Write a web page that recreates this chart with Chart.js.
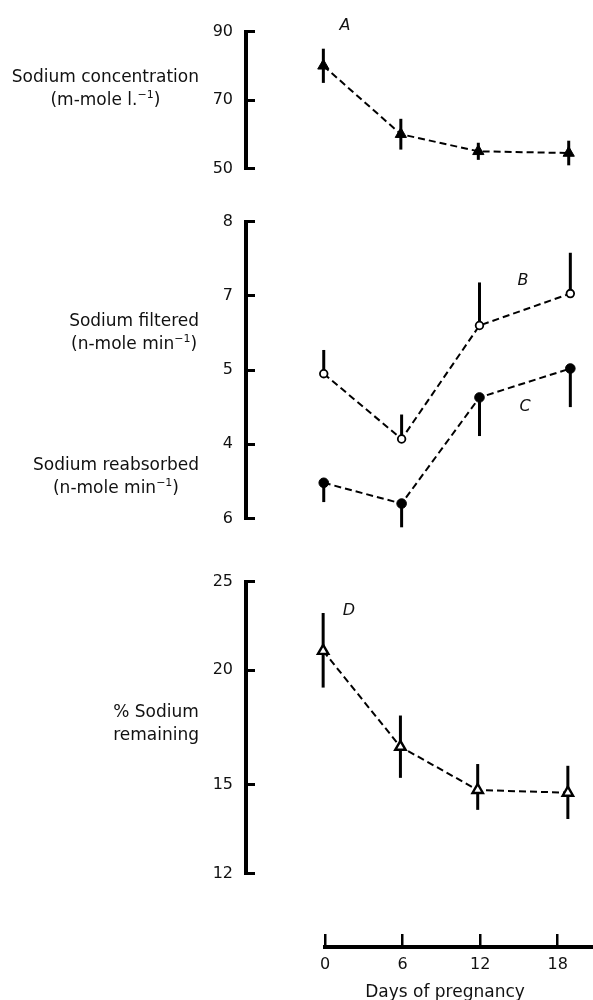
<!DOCTYPE html>
<html>
<head>
<meta charset="utf-8">
<title>Sodium handling during pregnancy</title>
<script src="https://cdn.jsdelivr.net/npm/chart.js@4.4.0/dist/chart.umd.min.js"></script>
<style>
  html, body { margin: 0; padding: 0; background: #fff; }
  #figure { position: relative; width: 593px; height: 1000px; overflow: hidden;
            font-family: 'DejaVu Sans', sans-serif; color: #111; }
  #figure canvas { position: absolute; left: 0; }
  .ylab { position: absolute; right: 394px; font-size: 17px; line-height: 23px;
          text-align: center; white-space: nowrap; z-index: 2; }
  .ylab sup { font-size: 11px; vertical-align: 7px; line-height: 0; }
  .tag { position: absolute; font-size: 16px; line-height: 16px; font-style: italic;
         transform: translate(-50%, -50%); z-index: 2; }
  #xtitle { position: absolute; left: 445px; top: 981px; font-size: 17px; line-height: 20px;
            transform: translateX(-50%); white-space: nowrap; z-index: 2; }
</style>
</head>
<body>
<div id="figure">
  <canvas id="panelA" width="593" height="200" style="top:0px"></canvas>
  <canvas id="panelBC" width="593" height="360" style="top:190px"></canvas>
  <canvas id="panelD" width="593" height="355" style="top:550px"></canvas>
  <canvas id="axisX" width="593" height="100" style="top:900px"></canvas>

  <div class="ylab" style="top:65px">Sodium concentration<br>(m-mole l.<sup>−1</sup>)</div>
  <div class="ylab" style="top:309px">Sodium filtered<br>(n-mole min<sup>−1</sup>)</div>
  <div class="ylab" style="top:453px">Sodium reabsorbed<br>(n-mole min<sup>−1</sup>)</div>
  <div class="ylab" style="top:700px">% Sodium<br>remaining</div>

  <div class="tag" style="left:345px; top:25px">A</div>
  <div class="tag" style="left:523px; top:280px">B</div>
  <div class="tag" style="left:525px; top:406px">C</div>
  <div class="tag" style="left:349px; top:610px">D</div>

  <div id="xtitle">Days of pregnancy</div>
</div>

<script>
// Days of pregnancy at which the measurements were made
const days = [0, 6, 12, 19];
const dayTicks = [0, 6, 12, 18];

// A - sodium concentration (m-mole/l), mean +/- s.e.
const concValues = [80, 60, 55, 54.5];
const concErr = [5, 4.5, 2.5, 3.6];
const concTicks = [50, 70, 90];

// B / C - filtered and reabsorbed sodium (axis units as drawn, labels below)
const filteredValues = [5.95, 5.07, 6.6, 7.03];
const filteredErrUp = [0.32, 0.33, 0.58, 0.55];
const reabsorbedValues = [4.48, 4.2, 5.63, 6.02];
const reabsorbedErrDown = [0.26, 0.32, 0.52, 0.52];
const midTicks = [4, 5, 6, 7, 8];
const midTickLabels = ['6', '4', '5', '7', '8'];

// D - % sodium remaining (log axis)
const remainingValues = [21.0, 16.5, 14.8, 14.7];
const remainingLow = [19.15, 15.26, 14.08, 13.76];
const remainingHigh = [23.1, 17.85, 15.8, 15.73];
const remainingTicks = [12, 15, 20, 25];

const FONT = { family: "'DejaVu Sans', sans-serif", size: 16 };

// draws vertical error bars from dataset.errLow / dataset.errHigh
const errorBars = {
    id: 'errorBars',
    beforeDatasetsDraw(chart) {
        const ctx = chart.ctx;
        const xs = chart.scales.x, ys = chart.scales.y;
        chart.data.datasets.forEach(ds => {
            if (!ds.errLow) return;
            ctx.save();
            ctx.strokeStyle = '#000';
            ctx.lineWidth = 3;
            ds.data.forEach((p, i) => {
                const x = xs.getPixelForValue(p.x);
                ctx.beginPath();
                ctx.moveTo(x, ys.getPixelForValue(ds.errLow[i]));
                ctx.lineTo(x, ys.getPixelForValue(ds.errHigh[i]));
                ctx.stroke();
            });
            ctx.restore();
        });
    }
};

function points(values) {
    return days.map((d, i) => ({ x: d, y: values[i] }));
}

function series(values, low, high, marker) {
    return Object.assign({
        data: points(values),
        errLow: low,
        errHigh: high,
        borderColor: '#000',
        borderWidth: 2,
        borderDash: [7, 4],
        tension: 0,
        fill: false,
        clip: false,
        pointHoverRadius: 0
    }, marker);
}

function yAxis(extra) {
    return Object.assign({
        position: 'left',
        afterFit(scale) { scale.width = 246; },
        border: { display: true, color: '#000', width: 4 },
        grid: { display: true, drawOnChartArea: false, drawTicks: true, tickLength: -9, color: '#000', lineWidth: 3 },
        ticks: { padding: 22, color: '#111', font: FONT }
    }, extra);
}

function panel(id, padTop, padBottom, datasets, y) {
    return new Chart(document.getElementById(id), {
        type: 'line',
        data: { datasets: datasets },
        options: {
            responsive: false,
            animation: false,
            events: [],
            layout: { padding: { left: 0, right: 0, top: padTop, bottom: padBottom } },
            plugins: { legend: { display: false }, tooltip: { enabled: false } },
            scales: {
                x: { type: 'linear', display: false, min: -5.99, max: 20.3 },
                y: y
            }
        },
        plugins: [errorBars]
    });
}

// Panel A
panel('panelA', 20, 28.3, [
    series(concValues,
        concValues.map((v, i) => v - concErr[i]),
        concValues.map((v, i) => v + concErr[i]),
        { pointStyle: 'triangle', pointRadius: 6.5, pointBackgroundColor: '#000', pointBorderColor: '#000', pointBorderWidth: 1 })
], yAxis({
    type: 'linear', min: 50, max: 90,
    afterBuildTicks(scale) { scale.ticks = concTicks.map(v => ({ value: v })); }
}));

// Panel B and C
panel('panelBC', 21.7, 29.3, [
    series(filteredValues,
        filteredValues,
        filteredValues.map((v, i) => v + filteredErrUp[i]),
        { pointStyle: 'circle', pointRadius: 3.8, pointBackgroundColor: '#fff', pointBorderColor: '#000', pointBorderWidth: 1.8 }),
    series(reabsorbedValues,
        reabsorbedValues.map((v, i) => v - reabsorbedErrDown[i]),
        reabsorbedValues,
        { pointStyle: 'circle', pointRadius: 4.8, pointBackgroundColor: '#000', pointBorderColor: '#000', pointBorderWidth: 1 })
], yAxis({
    type: 'linear', min: 4, max: 8,
    afterBuildTicks(scale) { scale.ticks = midTicks.map(v => ({ value: v })); },
    ticks: {
        padding: 22, color: '#111', font: FONT,
        callback: v => midTickLabels[midTicks.indexOf(v)]
    }
}));

// Panel D
panel('panelD', 26.7, 22.3, [
    series(remainingValues, remainingLow, remainingHigh,
        { pointStyle: 'triangle', pointRadius: 6, pointBackgroundColor: '#fff', pointBorderColor: '#000', pointBorderWidth: 2.4 })
], yAxis({
    type: 'logarithmic', min: 12, max: 25,
    afterBuildTicks(scale) { scale.ticks = remainingTicks.map(v => ({ value: v })); },
    ticks: { padding: 22, color: '#111', font: FONT, callback: v => String(v) }
}));

// Shared time axis at the bottom
new Chart(document.getElementById('axisX'), {
    type: 'line',
    data: { datasets: [] },
    options: {
        responsive: false,
        animation: false,
        events: [],
        layout: { padding: { left: 325, right: 0, top: 34, bottom: 0 } },
        plugins: { legend: { display: false }, tooltip: { enabled: false } },
        scales: {
            x: {
                type: 'linear', position: 'bottom', min: 0, max: 20.73,
                afterBuildTicks(scale) { scale.ticks = dayTicks.map(v => ({ value: v })); },
                afterFit(scale) { scale.height = 53.3; },
                border: { display: true, color: '#000', width: 4 },
                grid: { display: true, drawOnChartArea: true, drawTicks: false, color: '#000', lineWidth: 2.5 },
                ticks: { padding: 9, color: '#111', font: FONT, maxRotation: 0 }
            },
            y: { display: false }
        }
    }
});
</script>
</body>
</html>
